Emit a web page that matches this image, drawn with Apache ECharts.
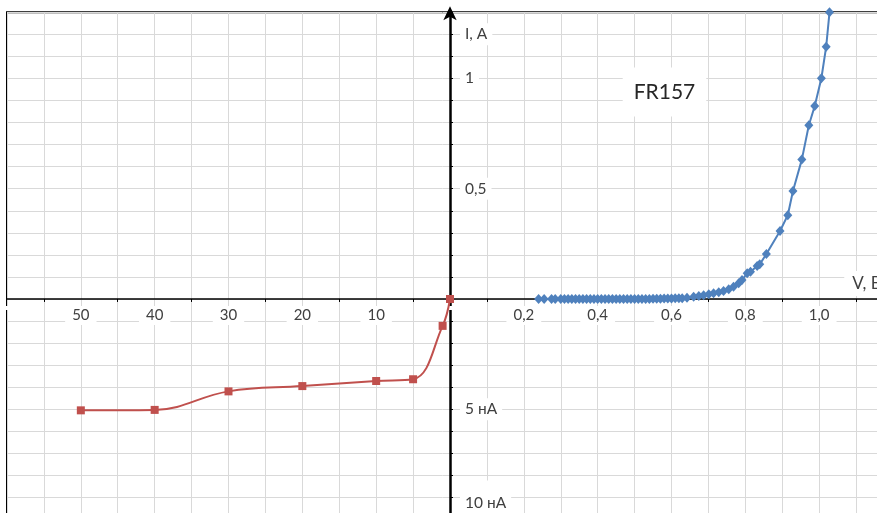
<!DOCTYPE html>
<html>
<head>
<meta charset="utf-8">
<script src="https://cdn.jsdelivr.net/npm/echarts@6/dist/echarts.min.js"></script>
<style>
html,body{margin:0;padding:0;background:#fff;}
#chart{width:877px;height:513px;}
</style>
</head>
<body>
<div id="chart"></div>
<script>
// Reverse branch (voltage in V, current in nA)
const reverseVolts = [50, 40, 30, 20, 10, 5, 1, 0];
const reverseCurrentNA = [5.05, 5.03, 4.19, 3.95, 3.72, 3.64, 1.22, 0];

// Forward branch (voltage in V, current in A)
const forwardVolts = [0.240,0.255,0.275,0.285,0.300,0.310,0.320,0.330,0.340,0.350,0.360,0.370,0.380,0.390,0.400,0.410,0.420,0.430,0.440,0.450,0.460,0.470,0.480,0.490,0.500,0.510,0.520,0.530,0.540,0.550,0.560,0.570,0.580,0.590,0.600,0.610,0.620,0.629,0.642,0.660,0.674,0.687,0.701,0.714,0.728,0.741,0.755,0.768,0.782,0.791,0.805,0.814,0.832,0.839,0.857,0.894,0.915,0.929,0.953,0.972,0.988,1.006,1.019,1.028];
const forwardCurrentA = [0,0,0,0,0,0,0,0,0,0,0,0,0,0,0,0,0,0,0,0,0,0,0,0,0,0,0,0,0,0.001,0.001,0.001,0.002,0.002,0.002,0.003,0.003,0.003,0.006,0.010,0.014,0.017,0.021,0.026,0.030,0.036,0.044,0.056,0.071,0.086,0.117,0.124,0.150,0.157,0.204,0.308,0.380,0.490,0.632,0.788,0.875,1.001,1.144,1.300];

// Tick labels (display-scale positions and texts)
const xLabelValues = [-1.0,-0.8,-0.6,-0.4,-0.2,0.2,0.4,0.6,0.8,1.0];
const xLabelTexts = ['50','40','30','20','10','0,2','0,4','0,6','0,8','1,0'];
const yLabelValues = [1.2,1.0,0.5,-0.5,-0.9];
const yLabelTexts = ['I, A','1','0,5','5 нА','10 нА'];

const chartTitle = 'FR157';
const xAxisTitle = 'V, В';

// Display scale: reverse volts 5 V per grid cell (0.1), reverse nA 1 nA per grid cell
const reverseData = reverseVolts.map((v, i) => [-v / 50, -reverseCurrentNA[i] / 10]);
const forwardData = forwardVolts.map((v, i) => [v, forwardCurrentA[i]]);

function findLabel(values, texts, v) {
  for (let i = 0; i < values.length; i++) {
    if (Math.abs(values[i] - v) < 1e-6) return texts[i];
  }
  return '';
}

const FONT = 'Lato, "Open Sans", sans-serif';
const TXT = '#404040';
const GRID_C = '#d9d9d9';

const chart = echarts.init(document.getElementById('chart'), null, {renderer: 'canvas'});
chart.setOption({
  animation: false,
  backgroundColor: '#fff',
  grid: {
    left: 7, top: 12.3, right: -16, bottom: -6.5,
    outerBoundsMode: 'none', containLabel: false,
    show: true, borderColor: '#000', borderWidth: 2, backgroundColor: 'transparent'
  },
  xAxis: {
    type: 'value', min: -1.2, max: 1.2, interval: 0.2, position: 'bottom', offset: 0,
    axisLine: {onZero: false, lineStyle: {color: '#000', width: 1.5}},
    axisTick: {show: false},
    minorTick: {show: true, splitNumber: 2, length: 3, lineStyle: {color: '#000', width: 1}},
    splitLine: {show: true, lineStyle: {color: GRID_C, width: 1}},
    minorSplitLine: {show: true, lineStyle: {color: GRID_C, width: 1}},
    axisLabel: {
      margin: 7, color: TXT, fontFamily: FONT, fontSize: 15,
      backgroundColor: '#fff', padding: [2, 7, 2, 7],
      formatter: v => findLabel(xLabelValues, xLabelTexts, v)
    }
  },
  yAxis: {
    type: 'value', min: -1.0, max: 1.3, interval: 0.1, position: 'left', offset: 0,
    axisLine: {onZero: false, lineStyle: {color: '#000', width: 2.5},
      symbol: ['none', 'arrow'], symbolSize: [10, 14], symbolOffset: [0, 6]},
    axisTick: {show: true, inside: true, length: 3, lineStyle: {color: '#000', width: 1}},
    splitLine: {show: true, lineStyle: {color: GRID_C, width: 1}},
    axisLabel: {
      inside: true, margin: 10, color: TXT, fontFamily: FONT, fontSize: 15.5,
      backgroundColor: '#fff', padding: [3, 5, 3, 5],
      formatter: v => {
        const t = findLabel(yLabelValues, yLabelTexts, v);
        if (t === '10 нА') return '{low|' + t + '}';
        return t;
      },
      rich: {low: {color: TXT, fontFamily: FONT, fontSize: 15.5, padding: [12, 0, 0, 0]}}
    }
  },
  series: [
    {
      name: 'reverse', type: 'line', data: reverseData, smooth: 0.4, clip: false,
      symbol: 'rect', symbolSize: 8,
      lineStyle: {color: '#C0504D', width: 2},
      itemStyle: {color: '#C0504D'}, z: 3
    },
    {
      name: 'forward', type: 'line', data: forwardData, smooth: false, clip: false,
      symbol: 'diamond', symbolSize: [9, 10],
      lineStyle: {color: '#4F81BD', width: 2},
      itemStyle: {color: '#4F81BD'}, z: 3
    }
  ]
});

// Move axes (line, ticks and labels) to the zero crossing
const pZero = chart.convertToPixel({gridIndex: 0}, [0, 0]);
const pMin = chart.convertToPixel({gridIndex: 0}, [-1.2, -1.0]);
const pTitle = chart.convertToPixel({gridIndex: 0}, [0.581, 0.939]);
const pV = chart.convertToPixel({gridIndex: 0}, [1.068, 0.07]);
chart.setOption({
  xAxis: {offset: -(pMin[1] - pZero[1])},
  yAxis: {offset: -(pZero[0] - pMin[0])},
  graphic: [
    {
      type: 'text', x: pTitle[0], y: pTitle[1], z: 10,
      style: {text: chartTitle, fill: '#262626', font: '21px ' + FONT,
        align: 'center', verticalAlign: 'middle',
        backgroundColor: '#fff', padding: [14, 11, 14, 11]}
    },
    {
      type: 'text', x: pV[0], y: pV[1], z: 10,
      style: {text: xAxisTitle, fill: TXT, font: '17px ' + FONT,
        align: 'left', verticalAlign: 'middle',
        backgroundColor: '#fff', padding: [4, 6, 4, 8]}
    }
  ]
});
</script>
</body>
</html>
